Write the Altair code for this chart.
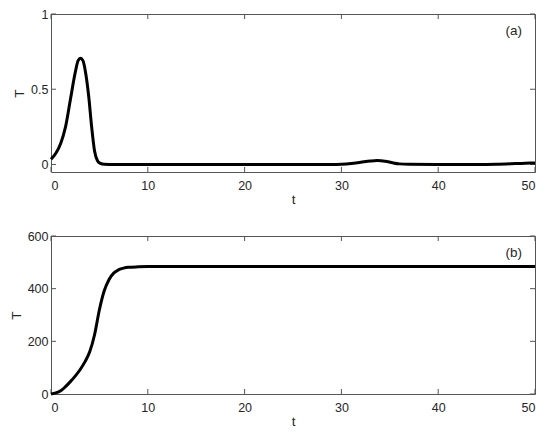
import altair as alt
import pandas as pd

# Panel (a)
t_a = [0, 0.5, 1, 1.5, 2, 2.5, 2.8, 3.05, 3.3, 3.6, 3.9, 4.2, 4.5, 4.8, 5.1, 5.5, 6, 10, 20, 29,
       30, 31, 32, 33, 33.7, 34.5, 35.3, 36, 37, 40, 45, 46, 47, 48, 49, 50]
T_a = [0.035, 0.075, 0.14, 0.25, 0.43, 0.61, 0.69, 0.706, 0.69, 0.60, 0.45, 0.25, 0.09, 0.025, 0.007, 0.001, 0, 0, 0, 0,
       0.002, 0.007, 0.015, 0.023, 0.026, 0.022, 0.011, 0.004, 0.001, 0, 0, 0.001, 0.003, 0.006, 0.008, 0.01]

# Panel (b)
t_b = [0, 0.5, 1, 1.5, 2, 2.5, 3, 3.5, 4, 4.5, 5, 5.5, 6, 6.5, 7, 7.5, 8, 9, 10, 20, 30, 40, 50]
T_b = [0, 4, 12, 28, 47, 68, 92, 122, 160, 225, 320, 392, 435, 460, 472, 478, 481, 483, 484, 484, 484, 484, 484]

x_ticks = [0, 10, 20, 30, 40, 50]
y_ticks_a = [0, 0.5, 1]
y_ticks_b = [0, 200, 400, 600]
labels = ["(a)", "(b)"]
label_pos_a = (47.8, 0.89)
label_pos_b = (47.8, 537)

W = 484
H = 158
TICK = 5
AX = "#555555"
TXT = "#262626"
FONT = "Liberation Sans"


def panel(t, T, ydom, yticks, label, lpos, yfmt):
    df = pd.DataFrame({"t": t, "T": T})
    xs = alt.Scale(domain=[0, 50], nice=False, zero=False)
    ys = alt.Scale(domain=ydom, nice=False, zero=False)
    line = alt.Chart(df).mark_line(color="black", strokeWidth=3, interpolate="monotone").encode(
        x=alt.X("t:Q", scale=xs, title="t",
                axis=alt.Axis(values=x_ticks, ticks=False, domain=False, grid=False,
                              labelPadding=7, titlePadding=1)),
        y=alt.Y("T:Q", scale=ys, title="T",
                axis=alt.Axis(values=yticks, ticks=False, domain=False, grid=False,
                              labelPadding=3, titlePadding=4, format=yfmt)),
    )
    xt = pd.DataFrame({"v": x_ticks})
    yt = pd.DataFrame({"v": yticks})
    bot = alt.Chart(xt).mark_rule(color=AX, strokeWidth=1).encode(
        x=alt.X("v:Q", scale=xs), y=alt.value(H), y2=alt.value(H - TICK))
    top = alt.Chart(xt).mark_rule(color=AX, strokeWidth=1).encode(
        x=alt.X("v:Q", scale=xs), y=alt.value(0), y2=alt.value(TICK))
    left = alt.Chart(yt).mark_rule(color=AX, strokeWidth=1).encode(
        y=alt.Y("v:Q", scale=ys), x=alt.value(0), x2=alt.value(TICK))
    right = alt.Chart(yt).mark_rule(color=AX, strokeWidth=1).encode(
        y=alt.Y("v:Q", scale=ys), x=alt.value(W - TICK), x2=alt.value(W))
    ld = pd.DataFrame({"t": [lpos[0]], "T": [lpos[1]], "lab": [label]})
    txt = alt.Chart(ld).mark_text(fontSize=13.5, font=FONT, color=TXT).encode(
        x=alt.X("t:Q", scale=xs), y=alt.Y("T:Q", scale=ys), text="lab:N")
    return alt.layer(bot, top, left, right, line, txt).properties(width=W, height=H)


pa = panel(t_a, T_a, [-0.05, 1], y_ticks_a, labels[0], label_pos_a, "~g")
pb = panel(t_b, T_b, [0, 600], y_ticks_b, labels[1], label_pos_b, "d")

chart = alt.vconcat(pa, pb, spacing=22).properties(
    padding={"left": 0, "top": -1, "right": 0, "bottom": 0}
).configure_view(stroke=AX, strokeWidth=1).configure_axis(
    labelFont=FONT, titleFont=FONT, labelFontSize=12.5, titleFontSize=13.5,
    labelColor=TXT, titleColor=TXT, titleFontWeight="normal"
)

chart.save("out.html", embed_options={"renderer": "svg", "actions": False})
